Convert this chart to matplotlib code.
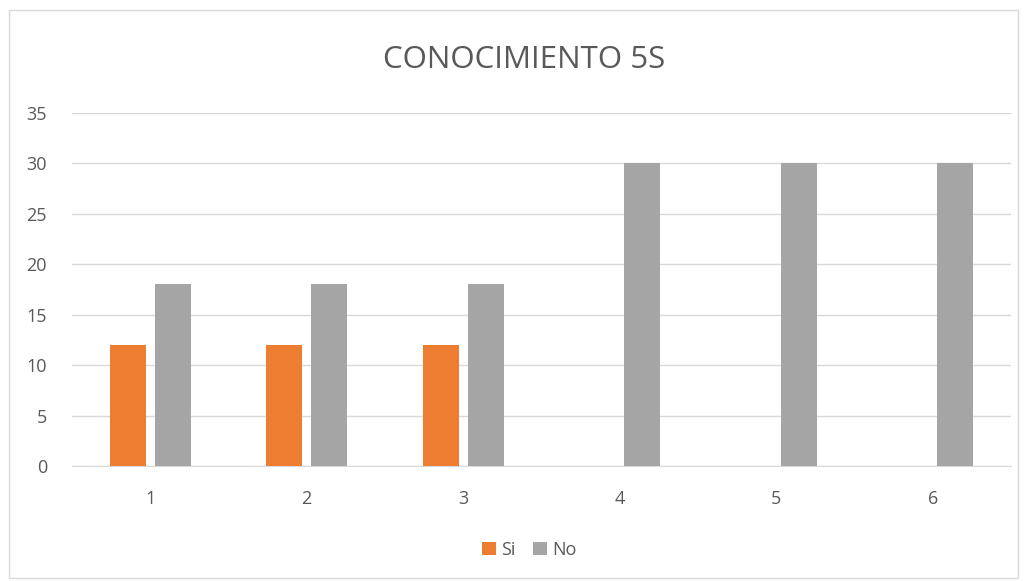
import numpy as np
import matplotlib
matplotlib.use("Agg")
import matplotlib.pyplot as plt
from matplotlib.patches import Rectangle

plt.rcParams["font.family"] = ["Open Sans", "DejaVu Sans"]

categories = ["1", "2", "3", "4", "5", "6"]
si_vals = [12, 12, 12, 0, 0, 0]
no_vals = [18, 18, 18, 30, 30, 30]
yticks = [0, 5, 10, 15, 20, 25, 30, 35]

TEXT = "#595959"

fig = plt.figure(figsize=(10.28, 5.81), dpi=100)
fig.patches.append(Rectangle((9 / 1028, 3 / 581), 1009 / 1028, 568 / 581,
                             transform=fig.transFigure, fill=False,
                             edgecolor="#d9d9d9", linewidth=1))
ax = fig.add_axes([72 / 1028, 1 - 466 / 581, 939 / 1028, 353 / 581])

x = np.arange(len(categories))
w = 0.23
ax.bar(x - 0.145, si_vals, w, color="#ed7d31", label="Si", zorder=3)
ax.bar(x + 0.145, no_vals, w, color="#a5a5a5", label="No", zorder=3)

ax.set_xlim(-0.5, len(categories) - 0.5)
ax.set_ylim(0, 35)
ax.set_yticks(yticks)
ax.set_xticks(x)
ax.set_xticklabels(categories)
ax.grid(axis="y", color="#d9d9d9", linewidth=1, zorder=0)
for s in ["top", "right", "left"]:
    ax.spines[s].set_visible(False)
ax.spines["bottom"].set_color("#d9d9d9")
ax.tick_params(length=0, labelsize=13, colors=TEXT)
ax.tick_params(axis="x", pad=17)
ax.tick_params(axis="y", pad=18)

fig.text(0.51, 1 - 60 / 581, "CONOCIMIENTO 5S", ha="center", va="center",
         fontsize=22.5, color=TEXT)
fig.legend(loc="center", bbox_to_anchor=(0.515, 1 - 550 / 581), ncol=2,
           frameon=False, fontsize=13, handlelength=0.75, handleheight=0.75,
           columnspacing=1.0, handletextpad=0.3, labelcolor=TEXT)

fig.savefig("out.png", dpi=100)
